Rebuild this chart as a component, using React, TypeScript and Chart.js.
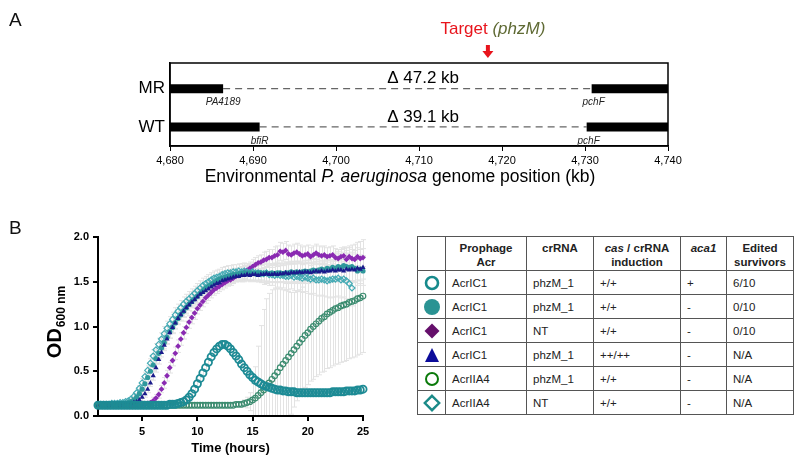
import React, { useEffect, useRef } from 'react';
import { Chart, registerables } from 'chart.js';

Chart.register(...registerables);

const FONT = "'Liberation Sans', Arial, Helvetica, sans-serif";

// ---------------- Panel A data ----------------
const genomeRows = ['MR', 'WT'];
const rowLevels = [1, 0];
const genomeMin = 4680;
const genomeMax = 4740;
const genomeTicks = [4680, 4690, 4700, 4710, 4720, 4730, 4740];
const leftGeneEnd = [4686.4, 4690.8];
const rightGeneStart = [4730.8, 4730.2];
const leftGeneNames = ['PA4189', 'bfiR'];
const rightGeneNames = ['pchF', 'pchF'];
const deletionSizes = ['47.2', '39.1'];
const deletionLabelPos = 4710.5;
const targetPos = 4718.3;

// ---------------- Panel B data ----------------
const hours = Array.from({ length: 97 }, (_, i) => 1 + i * 0.25);
const xTicksB = [5, 10, 15, 20, 25];

// AcrIC1 phzM_1 +/+ aca1 + (open teal circle)
const odOpenCircleAca = [
  0.12, 0.12, 0.12, 0.12, 0.12, 0.12, 0.12, 0.12, 0.12, 0.12, 0.12, 0.12,
  0.12, 0.12, 0.12, 0.12, 0.12, 0.12, 0.12, 0.12, 0.12, 0.12, 0.12, 0.12,
  0.12, 0.12, 0.13, 0.13, 0.13, 0.14, 0.15, 0.16, 0.18, 0.21, 0.25, 0.30,
  0.36, 0.42, 0.48, 0.54, 0.60, 0.66, 0.71, 0.75, 0.78, 0.80, 0.80, 0.78,
  0.75, 0.71, 0.67, 0.63, 0.58, 0.54, 0.50, 0.46, 0.43, 0.40, 0.38, 0.36,
  0.34, 0.33, 0.32, 0.31, 0.30, 0.29, 0.29, 0.28, 0.28, 0.27, 0.27, 0.27,
  0.26, 0.26, 0.26, 0.26, 0.26, 0.26, 0.26, 0.26, 0.26, 0.26, 0.26, 0.26,
  0.26, 0.27, 0.27, 0.27, 0.27, 0.27, 0.28, 0.28, 0.28, 0.28, 0.29, 0.29,
  0.30,
];
// AcrIC1 phzM_1 +/+ (filled teal circle)
const odFilledCircle = [
  0.12, 0.12, 0.12, 0.12, 0.12, 0.13, 0.13, 0.13, 0.13, 0.14, 0.14, 0.15,
  0.16, 0.18, 0.21, 0.25, 0.30, 0.36, 0.43, 0.50, 0.57, 0.64, 0.70, 0.76,
  0.82, 0.88, 0.94, 0.99, 1.04, 1.09, 1.13, 1.17, 1.21, 1.25, 1.28, 1.31,
  1.34, 1.37, 1.40, 1.43, 1.45, 1.47, 1.49, 1.51, 1.53, 1.54, 1.55, 1.56,
  1.57, 1.58, 1.58, 1.59, 1.59, 1.60, 1.59, 1.60, 1.60, 1.59, 1.60, 1.60,
  1.59, 1.60, 1.59, 1.60, 1.59, 1.60, 1.60, 1.59, 1.60, 1.60, 1.61, 1.60,
  1.61, 1.60, 1.61, 1.62, 1.61, 1.62, 1.63, 1.62, 1.63, 1.64, 1.63, 1.65,
  1.64, 1.66, 1.65, 1.67, 1.66, 1.68, 1.67, 1.66, 1.67, 1.65, 1.62, 1.64,
  1.62,
];
// AcrIC1 NT +/+ (purple diamond)
const odPurpleDiamond = [
  0.11, 0.11, 0.11, 0.11, 0.11, 0.11, 0.11, 0.11, 0.11, 0.11, 0.11, 0.11,
  0.11, 0.11, 0.12, 0.12, 0.12, 0.13, 0.14, 0.15, 0.17, 0.20, 0.24, 0.30,
  0.37, 0.45, 0.54, 0.62, 0.70, 0.78, 0.86, 0.93, 0.99, 1.05, 1.10, 1.15,
  1.20, 1.24, 1.28, 1.32, 1.35, 1.38, 1.41, 1.43, 1.45, 1.47, 1.49, 1.51,
  1.52, 1.54, 1.56, 1.57, 1.59, 1.61, 1.63, 1.65, 1.67, 1.69, 1.71, 1.72,
  1.74, 1.75, 1.77, 1.77, 1.79, 1.80, 1.84, 1.83, 1.85, 1.81, 1.80, 1.82,
  1.83, 1.81, 1.79, 1.80, 1.81, 1.78, 1.80, 1.82, 1.80, 1.79, 1.80, 1.78,
  1.79, 1.80, 1.77, 1.76, 1.78, 1.79, 1.75, 1.78, 1.76, 1.75, 1.78, 1.76,
  1.77,
];
// AcrIC1 phzM_1 ++/++ (blue triangle)
const odTriangle = [
  0.12, 0.12, 0.12, 0.12, 0.12, 0.12, 0.12, 0.12, 0.12, 0.13, 0.13, 0.13,
  0.14, 0.15, 0.16, 0.18, 0.21, 0.25, 0.30, 0.37, 0.45, 0.54, 0.63, 0.71,
  0.79, 0.86, 0.93, 0.99, 1.04, 1.09, 1.13, 1.17, 1.21, 1.24, 1.27, 1.30,
  1.33, 1.36, 1.38, 1.40, 1.42, 1.44, 1.46, 1.48, 1.49, 1.51, 1.52, 1.53,
  1.54, 1.55, 1.56, 1.56, 1.57, 1.57, 1.58, 1.57, 1.58, 1.58, 1.57, 1.58,
  1.58, 1.59, 1.58, 1.58, 1.59, 1.58, 1.59, 1.59, 1.60, 1.59, 1.60, 1.60,
  1.60, 1.61, 1.60, 1.61, 1.61, 1.60, 1.61, 1.62, 1.61, 1.62, 1.61, 1.62,
  1.62, 1.63, 1.62, 1.63, 1.63, 1.62, 1.64, 1.63, 1.64, 1.63, 1.65, 1.64,
  1.66,
];
// AcrIIA4 phzM_1 +/+ (open green circle)
const odGreenCircle = [
  0.12, 0.12, 0.12, 0.12, 0.12, 0.12, 0.12, 0.12, 0.12, 0.12, 0.12, 0.12,
  0.12, 0.12, 0.12, 0.12, 0.12, 0.12, 0.12, 0.12, 0.12, 0.12, 0.12, 0.12,
  0.12, 0.12, 0.12, 0.12, 0.12, 0.12, 0.12, 0.12, 0.12, 0.12, 0.12, 0.12,
  0.12, 0.12, 0.12, 0.12, 0.12, 0.12, 0.12, 0.12, 0.12, 0.12, 0.12, 0.12,
  0.12, 0.12, 0.13, 0.13, 0.13, 0.14, 0.15, 0.16, 0.18, 0.20, 0.23, 0.26,
  0.29, 0.33, 0.37, 0.41, 0.45, 0.49, 0.54, 0.58, 0.62, 0.66, 0.70, 0.74,
  0.78, 0.82, 0.86, 0.90, 0.93, 0.97, 1.00, 1.03, 1.06, 1.09, 1.11, 1.14,
  1.16, 1.18, 1.20, 1.21, 1.23, 1.24, 1.25, 1.27, 1.28, 1.29, 1.31, 1.32,
  1.34,
];
// AcrIIA4 NT +/+ (open teal diamond), last read at 24 h
const odOpenDiamond = [
  0.13, 0.13, 0.13, 0.13, 0.13, 0.14, 0.14, 0.14, 0.15, 0.15, 0.16, 0.17,
  0.19, 0.22, 0.26, 0.31, 0.37, 0.44, 0.51, 0.59, 0.67, 0.74, 0.80, 0.86,
  0.92, 0.98, 1.03, 1.08, 1.13, 1.17, 1.21, 1.25, 1.28, 1.31, 1.34, 1.37,
  1.40, 1.43, 1.46, 1.48, 1.50, 1.52, 1.54, 1.55, 1.56, 1.58, 1.59, 1.60,
  1.60, 1.61, 1.61, 1.62, 1.61, 1.62, 1.61, 1.60, 1.61, 1.60, 1.60, 1.59,
  1.59, 1.60, 1.58, 1.58, 1.57, 1.58, 1.57, 1.57, 1.56, 1.56, 1.57, 1.55,
  1.56, 1.55, 1.54, 1.55, 1.54, 1.53, 1.54, 1.52, 1.52, 1.53, 1.52, 1.51,
  1.52, 1.53, 1.53, 1.54, 1.52, 1.53, 1.51, 1.48, 1.43,
];

// SD read per time point (green) and per hour (others)
const sdGreenCircle = [
  0.02, 0.02, 0.02, 0.02, 0.02, 0.02, 0.02, 0.02, 0.02, 0.02, 0.02, 0.02,
  0.02, 0.02, 0.02, 0.02, 0.02, 0.02, 0.02, 0.02, 0.02, 0.02, 0.02, 0.02,
  0.02, 0.02, 0.02, 0.02, 0.02, 0.02, 0.02, 0.02, 0.02, 0.02, 0.02, 0.02,
  0.02, 0.02, 0.02, 0.02, 0.02, 0.02, 0.02, 0.02, 0.02, 0.02, 0.02, 0.02,
  0.02, 0.02, 0.02, 0.02, 0.03, 0.04, 0.06, 0.10, 0.18, 0.35, 0.55, 0.75,
  0.90, 0.98, 1.00, 1.00, 0.97, 0.93, 0.88, 0.83, 0.78, 0.73, 0.68, 0.64,
  0.61, 0.59, 0.58, 0.58, 0.58, 0.58, 0.59, 0.59, 0.60, 0.60, 0.61, 0.61,
  0.62, 0.62, 0.62, 0.63, 0.63, 0.63, 0.63, 0.63, 0.63, 0.63, 0.63, 0.63,
  0.63,
];
const sdOpenCircleAcaHourly = [0.01, 0.01, 0.01, 0.01, 0.01, 0.01, 0.01, 0.02, 0.02, 0.03, 0.03, 0.03, 0.03, 0.03, 0.02, 0.02, 0.02, 0.02, 0.02, 0.02, 0.02, 0.02, 0.02, 0.02, 0.02];
const sdFilledCircleHourly = [0.02, 0.02, 0.02, 0.03, 0.05, 0.06, 0.07, 0.07, 0.07, 0.07, 0.07, 0.07, 0.07, 0.08, 0.08, 0.10, 0.10, 0.12, 0.12, 0.13, 0.14, 0.15, 0.15, 0.16, 0.16];
const sdPurpleDiamondHourly = [0.01, 0.01, 0.01, 0.01, 0.02, 0.04, 0.06, 0.07, 0.07, 0.06, 0.06, 0.06, 0.06, 0.07, 0.08, 0.09, 0.10, 0.10, 0.10, 0.10, 0.10, 0.10, 0.10, 0.10, 0.10];
const sdTriangleHourly = [0.01, 0.01, 0.01, 0.02, 0.04, 0.05, 0.06, 0.06, 0.06, 0.06, 0.06, 0.06, 0.06, 0.07, 0.07, 0.08, 0.09, 0.10, 0.10, 0.11, 0.12, 0.12, 0.13, 0.13, 0.13];
const sdOpenDiamondHourly = [0.02, 0.02, 0.02, 0.03, 0.05, 0.07, 0.08, 0.08, 0.08, 0.08, 0.08, 0.08, 0.08, 0.09, 0.10, 0.12, 0.14, 0.15, 0.16, 0.17, 0.18, 0.20, 0.20, 0.20, 0.20];

// ---------------- Table data ----------------
const tableSymbols = ['openCircle', 'filledCircle', 'diamond', 'triangle', 'greenCircle', 'openDiamond'];
const prophageAcr = ['AcrIC1', 'AcrIC1', 'AcrIC1', 'AcrIC1', 'AcrIIA4', 'AcrIIA4'];
const crRNA = ['phzM_1', 'phzM_1', 'NT', 'phzM_1', 'phzM_1', 'NT'];
const casInduction = ['+/+', '+/+', '+/+', '++/++', '+/+', '+/+'];
const aca1 = ['+', '-', '-', '-', '-', '-'];
const editedSurvivors = ['6/10', '0/10', '0/10', 'N/A', 'N/A', 'N/A'];

const hourlyLookup = (arr: number[]) => (i: number) => arr[Math.min(arr.length - 1, Math.floor(hours[i] - 1))];

const growthSeries = [
  { values: odOpenCircleAca, sd: hourlyLookup(sdOpenCircleAcaHourly), style: 'circle', radius: 3.6, border: 1.8, color: '#1d8b95', filled: false },
  { values: odGreenCircle, sd: (i: number) => sdGreenCircle[i], style: 'circle', radius: 2.8, border: 1.2, color: '#3c8c70', filled: false },
  { values: odTriangle, sd: hourlyLookup(sdTriangleHourly), style: 'triangle', radius: 3, border: 0, color: '#1b1b8c', filled: true },
  { values: odFilledCircle, sd: hourlyLookup(sdFilledCircleHourly), style: 'circle', radius: 2.6, border: 0, color: '#2f989c', filled: true },
  { values: odOpenDiamond, sd: hourlyLookup(sdOpenDiamondHourly), style: 'rectRot', radius: 3, border: 1.2, color: '#45abb5', filled: false },
  { values: odPurpleDiamond, sd: hourlyLookup(sdPurpleDiamondHourly), style: 'rectRot', radius: 2.9, border: 0, color: '#8a2ab2', filled: true },
];

function TableSymbol({ kind }: { kind: string }) {
  const s = 18;
  let el: any = null;
  if (kind === 'openCircle') el = <circle cx={9} cy={9} r={6} fill="none" stroke="#178a8c" strokeWidth={2.6} />;
  if (kind === 'filledCircle') el = <circle cx={9} cy={9} r={8} fill="#2a9393" />;
  if (kind === 'diamond') el = <polygon points="9,1.5 16.5,9 9,16.5 1.5,9" fill="#650f6b" />;
  if (kind === 'triangle') el = <polygon points="9,2 16,16 2,16" fill="#0c0c9a" />;
  if (kind === 'greenCircle') el = <circle cx={9} cy={9} r={6} fill="none" stroke="#0b7a0b" strokeWidth={2} />;
  if (kind === 'openDiamond') el = <polygon points="9,1.8 16.2,9 9,16.2 1.8,9" fill="none" stroke="#1a8a88" strokeWidth={2.4} />;
  return (
    <svg width={s} height={s} viewBox="0 0 18 18" style={{ display: 'block', margin: '0 auto' }}>
      {el}
    </svg>
  );
}

export default function App() {
  const refA = useRef<HTMLCanvasElement>(null);
  const refB = useRef<HTMLCanvasElement>(null);

  useEffect(() => {
    Chart.defaults.font.family = FONT;

    // ---------- Panel A ----------
    const dsA: any[] = [];
    rowLevels.forEach((lv, r) => {
      dsA.push({
        data: [{ x: genomeMin, y: lv }, { x: leftGeneEnd[r], y: lv }],
        borderColor: '#000', borderWidth: 9, borderCapStyle: 'butt', pointRadius: 0, showLine: true,
      });
      dsA.push({
        data: [{ x: rightGeneStart[r], y: lv }, { x: genomeMax, y: lv }],
        borderColor: '#000', borderWidth: 9, borderCapStyle: 'butt', pointRadius: 0, showLine: true,
      });
      dsA.push({
        data: [{ x: leftGeneEnd[r], y: lv }, { x: rightGeneStart[r], y: lv }],
        borderColor: '#666666', borderWidth: 1.3, borderDash: [7, 5], pointRadius: 0, showLine: true,
      });
    });

    const panelAPlugin = {
      id: 'panelA',
      afterDraw(chart: any) {
        const { ctx, chartArea: ca, scales } = chart;
        const x = scales.x;
        const y = scales.y;
        ctx.save();
        ctx.strokeStyle = '#000';
        ctx.lineWidth = 1.5;
        ctx.strokeRect(ca.left, ca.top, ca.right - ca.left, ca.bottom - ca.top);
        ctx.fillStyle = '#000';
        ctx.textAlign = 'center';
        ctx.textBaseline = 'middle';
        rowLevels.forEach((lv, r) => {
          const py = y.getPixelForValue(lv);
          ctx.font = `17px ${FONT}`;
          ctx.fillStyle = '#000';
          ctx.fillText(`\u0394 ${deletionSizes[r]} kb`, x.getPixelForValue(deletionLabelPos), py - 10);
          ctx.font = `italic 10px ${FONT}`;
          ctx.fillStyle = '#222';
          ctx.fillText(leftGeneNames[r], x.getPixelForValue(leftGeneEnd[r]), py + 14);
          ctx.fillText(rightGeneNames[r], x.getPixelForValue(rightGeneStart[r]) + 2, py + 14);
        });
        // target arrow
        const ax = x.getPixelForValue(targetPos);
        ctx.fillStyle = '#e8141c';
        ctx.fillRect(ax - 2, ca.top - 18, 4, 7);
        ctx.beginPath();
        ctx.moveTo(ax - 5.5, ca.top - 12);
        ctx.lineTo(ax + 5.5, ca.top - 12);
        ctx.lineTo(ax, ca.top - 5);
        ctx.closePath();
        ctx.fill();
        // target text
        ctx.textAlign = 'left';
        const t1 = 'Target ';
        const t2 = '(phzM)';
        ctx.font = `17px ${FONT}`;
        const w1 = ctx.measureText(t1).width;
        ctx.font = `italic 17px ${FONT}`;
        const w2 = ctx.measureText(t2).width;
        const sx = ax + 5 - (w1 + w2) / 2;
        ctx.font = `17px ${FONT}`;
        ctx.fillStyle = '#e8141c';
        ctx.fillText(t1, sx, ca.top - 34);
        ctx.font = `italic 17px ${FONT}`;
        ctx.fillStyle = '#5f6a34';
        ctx.fillText(t2, sx + w1, ca.top - 34);
        // axis title
        const parts = [
          { t: 'Environmental ', f: `17.5px ${FONT}` },
          { t: 'P. aeruginosa', f: `italic 17.5px ${FONT}` },
          { t: ' genome position (kb)', f: `17.5px ${FONT}` },
        ];
        let total = 0;
        parts.forEach((p) => { ctx.font = p.f; total += ctx.measureText(p.t).width; });
        let cx = chart.width / 2 - total / 2;
        ctx.fillStyle = '#000';
        parts.forEach((p) => { ctx.font = p.f; ctx.fillText(p.t, cx, 177); cx += ctx.measureText(p.t).width; });
        ctx.restore();
      },
    };

    const chartA = new Chart(refA.current!, {
      type: 'scatter',
      data: { datasets: dsA },
      options: {
        responsive: false,
        animation: false,
        devicePixelRatio: 1,
        events: [],
        layout: { padding: { top: 63, right: 132, left: 0, bottom: 0 } },
        plugins: { legend: { display: false }, tooltip: { enabled: false } },
        scales: {
          x: {
            type: 'linear', min: genomeMin, max: genomeMax,
            afterBuildTicks: (s: any) => { s.ticks = genomeTicks.map((v) => ({ value: v })); },
            afterFit: (s: any) => { s.height = 54; },
            ticks: {
              color: '#000', font: { size: 11 }, padding: 3, maxRotation: 0, autoSkip: false,
              callback: (v: any) => Number(v).toLocaleString('en-US'),
            },
            grid: { drawOnChartArea: false, drawTicks: true, tickLength: 5, color: '#000', lineWidth: 1 },
            border: { color: '#000', width: 1.5 },
          },
          y: {
            type: 'linear', min: -0.5, max: 1.67,
            afterBuildTicks: (s: any) => { s.ticks = rowLevels.map((v) => ({ value: v })); },
            afterFit: (s: any) => { s.width = 170; },
            ticks: {
              color: '#000', font: { size: 17 }, padding: 5,
              callback: (v: any) => genomeRows[rowLevels.indexOf(Number(v))],
            },
            grid: { display: false, drawTicks: false },
            border: { color: '#000', width: 1.5 },
          },
        },
      } as any,
      plugins: [panelAPlugin],
    } as any);

    // ---------- Panel B ----------
    const errorBarPlugin = {
      id: 'errorBars',
      beforeDatasetsDraw(chart: any) {
        const { ctx, chartArea: ca, scales } = chart;
        const x = scales.x;
        const y = scales.y;
        ctx.save();
        ctx.beginPath();
        ctx.rect(ca.left + 1, ca.top - 10, ca.right - ca.left + 6, ca.bottom - ca.top + 9);
        ctx.clip();
        ctx.strokeStyle = '#e3e3e3';
        ctx.lineWidth = 1;
        growthSeries.forEach((s) => {
          s.values.forEach((v, i) => {
            const sd = s.sd(i);
            const px = Math.round(x.getPixelForValue(hours[i])) + 0.5;
            const top = y.getPixelForValue(v + sd);
            const bot = y.getPixelForValue(v - sd);
            ctx.beginPath();
            ctx.moveTo(px, top);
            ctx.lineTo(px, bot);
            ctx.moveTo(px - 2.5, top);
            ctx.lineTo(px + 2.5, top);
            ctx.moveTo(px - 2.5, bot);
            ctx.lineTo(px + 2.5, bot);
            ctx.stroke();
          });
        });
        ctx.restore();
      },
      afterDraw(chart: any) {
        const { ctx } = chart;
        ctx.save();
        ctx.translate(55, 117);
        ctx.rotate(-Math.PI / 2);
        ctx.fillStyle = '#000';
        ctx.textBaseline = 'middle';
        ctx.textAlign = 'left';
        const main = 'OD';
        const sub = '600 nm';
        ctx.font = `bold 20px ${FONT}`;
        const w1 = ctx.measureText(main).width;
        ctx.font = `bold 12px ${FONT}`;
        const w2 = ctx.measureText(sub).width + 1;
        const sx = -(w1 + w2) / 2;
        ctx.font = `bold 20px ${FONT}`;
        ctx.fillText(main, sx, 0);
        ctx.font = `bold 12px ${FONT}`;
        ctx.fillText(sub, sx + w1 + 1, 7);
        ctx.restore();
      },
    };

    const dsB = growthSeries.map((s) => ({
      data: s.values.map((v, i) => ({ x: hours[i], y: v })),
      showLine: false,
      pointStyle: s.style,
      pointRadius: s.radius,
      pointBorderWidth: s.border,
      pointBorderColor: s.color,
      pointBackgroundColor: s.filled ? s.color : 'rgba(0,0,0,0)',
      clip: false,
    }));

    const chartB = new Chart(refB.current!, {
      type: 'scatter',
      data: { datasets: dsB },
      options: {
        responsive: false,
        animation: false,
        devicePixelRatio: 1,
        events: [],
        layout: { padding: { top: 32, right: 42, left: 0, bottom: 0 } },
        plugins: { legend: { display: false }, tooltip: { enabled: false } },
        scales: {
          x: {
            type: 'linear', min: 1, max: 25,
            afterBuildTicks: (s: any) => { s.ticks = xTicksB.map((v) => ({ value: v })); },
            afterFit: (s: any) => { s.height = 48; },
            ticks: { color: '#000', font: { size: 11, weight: 'bold' }, padding: 4, maxRotation: 0, autoSkip: false },
            grid: { drawOnChartArea: false, drawTicks: true, tickLength: 5, color: '#000', lineWidth: 2 },
            border: { color: '#000', width: 2 },
            title: { display: true, text: 'Time (hours)', color: '#000', font: { size: 13, weight: 'bold' }, padding: { top: 0, bottom: 8 } },
          },
          y: {
            type: 'linear', min: 0, max: 2,
            afterFit: (s: any) => { s.width = 98; },
            ticks: { stepSize: 0.5, color: '#000', font: { size: 11, weight: 'bold' }, padding: 4, callback: (v: any) => Number(v).toFixed(1) },
            grid: { drawOnChartArea: false, drawTicks: true, tickLength: 5, color: '#000', lineWidth: 2 },
            border: { color: '#000', width: 2 },
          },
        },
      } as any,
      plugins: [errorBarPlugin],
    } as any);

    return () => {
      chartA.destroy();
      chartB.destroy();
    };
  }, []);

  const cellBase: React.CSSProperties = {
    border: '1.5px solid #555555',
    padding: 0,
    fontSize: 11.5,
    color: '#222',
    fontFamily: FONT,
  };
  const headStyle: React.CSSProperties = {
    ...cellBase,
    fontWeight: 'bold',
    textAlign: 'center',
    verticalAlign: 'top',
    paddingTop: 4,
    lineHeight: '14px',
    height: 34,
    boxSizing: 'border-box',
  };
  const bodyStyle: React.CSSProperties = {
    ...cellBase,
    textAlign: 'left',
    verticalAlign: 'middle',
    paddingLeft: 6,
    height: 24,
    boxSizing: 'border-box',
  };

  return (
    <div style={{ position: 'absolute', left: 0, top: 0, width: 800, height: 464, background: '#fff', fontFamily: FONT, overflow: 'hidden' }}>
      <canvas ref={refA} width={800} height={200} style={{ position: 'absolute', left: 0, top: 0, width: 800, height: 200 }} />
      <canvas ref={refB} width={405} height={259} style={{ position: 'absolute', left: 0, top: 205, width: 405, height: 259 }} />
      <div style={{ position: 'absolute', left: 9, top: 9, fontSize: 19, lineHeight: '22px', color: '#111' }}>A</div>
      <div style={{ position: 'absolute', left: 9, top: 217, fontSize: 19, lineHeight: '22px', color: '#111' }}>B</div>
      <table style={{ position: 'absolute', left: 417, top: 236, width: 376, borderCollapse: 'collapse', tableLayout: 'fixed' }}>
        <colgroup>
          <col style={{ width: 28 }} />
          <col style={{ width: 81 }} />
          <col style={{ width: 67 }} />
          <col style={{ width: 87 }} />
          <col style={{ width: 46 }} />
          <col style={{ width: 67 }} />
        </colgroup>
        <thead>
          <tr>
            <th style={headStyle}></th>
            <th style={headStyle}>Prophage<br />Acr</th>
            <th style={headStyle}>crRNA</th>
            <th style={headStyle}><i>cas</i> / crRNA<br />induction</th>
            <th style={headStyle}><i>aca1</i></th>
            <th style={headStyle}>Edited<br />survivors</th>
          </tr>
        </thead>
        <tbody>
          {tableSymbols.map((sym, r) => (
            <tr key={r}>
              <td style={{ ...bodyStyle, paddingLeft: 0, textAlign: 'center' }}><TableSymbol kind={sym} /></td>
              <td style={bodyStyle}>{prophageAcr[r]}</td>
              <td style={bodyStyle}>{crRNA[r]}</td>
              <td style={bodyStyle}>{casInduction[r]}</td>
              <td style={bodyStyle}>{aca1[r]}</td>
              <td style={bodyStyle}>{editedSurvivors[r]}</td>
            </tr>
          ))}
        </tbody>
      </table>
    </div>
  );
}
